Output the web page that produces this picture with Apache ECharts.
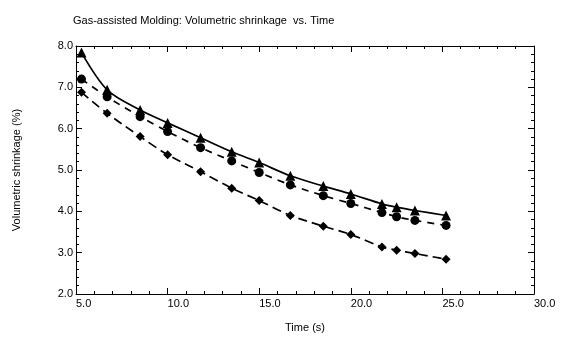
<!DOCTYPE html>
<html>
<head>
<meta charset="utf-8">
<script src="https://cdn.jsdelivr.net/npm/echarts@6/dist/echarts.min.js"></script>
<style>
  html, body { margin: 0; padding: 0; background: #fff; }
  #chart { width: 565px; height: 338px; }
</style>
</head>
<body>
<div id="chart"></div>
<script>
// times (s) shared by all three curves
var times = [5.3, 6.7, 8.5, 10.0, 11.8, 13.5, 15.0, 16.7, 18.5, 20.0, 21.7, 22.5, 23.5, 25.2];
var triangleVals = [7.84, 6.94, 6.45, 6.14, 5.78, 5.44, 5.18, 4.86, 4.61, 4.42, 4.18, 4.10, 4.02, 3.90];
var circleVals = [7.20, 6.77, 6.29, 5.93, 5.54, 5.22, 4.94, 4.64, 4.38, 4.19, 3.97, 3.87, 3.78, 3.66];
var diamondVals = [6.88, 6.37, 5.81, 5.37, 4.96, 4.56, 4.26, 3.90, 3.64, 3.44, 3.14, 3.06, 2.98, 2.84];

function pairs(vals) {
  return times.map(function (t, i) { return [t, vals[i]]; });
}

var chart = echarts.init(document.getElementById('chart'));
var font = 'Liberation Sans, Arial, sans-serif';

function frameAxis(pos, isX, labels) {
  var ax = {
    type: 'value',
    position: pos,
    min: isX ? 5 : 2,
    max: isX ? 30 : 8,
    interval: isX ? 5 : 1,
    axisLine: { show: true, onZero: false, lineStyle: { color: '#000', width: 1 } },
    axisTick: { show: true, inside: true, length: 6, lineStyle: { color: '#000' } },
    minorTick: { show: true, splitNumber: 5, length: 3, lineStyle: { color: '#000' } },
    splitLine: { show: false },
    axisLabel: { show: false }
  };
  if (labels) {
    ax.axisLabel = isX ? {
      show: true, color: '#000', fontSize: 11, fontFamily: font, align: 'left', margin: 4,
      formatter: function (v) { return v.toFixed(1); }
    } : {
      show: true, color: '#000', fontSize: 11, fontFamily: font, margin: 3,
      padding: [0, 0, 7, 0],
      formatter: function (v) { return v.toFixed(1); }
    };
  }
  return ax;
}

var xBottom = frameAxis('bottom', true, true);
xBottom.name = 'Time (s)';
xBottom.nameLocation = 'middle';
xBottom.nameGap = 28;
xBottom.nameTextStyle = { color: '#000', fontSize: 11, fontFamily: font };

var yLeft = frameAxis('left', false, true);
yLeft.name = 'Volumetric shrinkage (%)';
yLeft.nameLocation = 'middle';
yLeft.nameGap = 54;
yLeft.nameTextStyle = { color: '#000', fontSize: 11, fontFamily: font };

var option = {
  backgroundColor: '#fff',
  animation: false,
  title: {
    text: 'Gas-assisted Molding: Volumetric shrinkage  vs. Time',
    left: 68,
    top: 10,
    textStyle: { color: '#000', fontSize: 11, fontWeight: 'normal', fontFamily: font }
  },
  grid: { left: 76, right: 31, top: 46, bottom: 44 },
  xAxis: [xBottom, frameAxis('top', true, false)],
  yAxis: [yLeft, frameAxis('right', false, false)],
  series: [
    {
      type: 'line',
      data: pairs(triangleVals),
      smooth: 0.3,
      symbol: 'triangle',
      symbolSize: 10,
      itemStyle: { color: '#000' },
      lineStyle: { color: '#000', width: 1.7 }
    },
    {
      type: 'line',
      data: pairs(circleVals),
      smooth: 0.3,
      symbol: 'circle',
      symbolSize: 9,
      itemStyle: { color: '#000' },
      lineStyle: { color: '#000', width: 1.7, type: [7, 6] }
    },
    {
      type: 'line',
      data: pairs(diamondVals),
      smooth: 0.3,
      symbol: 'diamond',
      symbolSize: 9,
      itemStyle: { color: '#000' },
      lineStyle: { color: '#000', width: 1.7, type: [9, 5] }
    }
  ]
};

chart.setOption(option);
</script>
</body>
</html>
